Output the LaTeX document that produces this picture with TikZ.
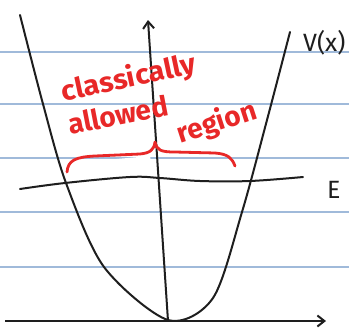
\documentclass[tikz,border=0pt]{standalone}
\usepackage{fontspec}
\setmainfont{Fira Sans}
\usetikzlibrary{arrows.meta}
\definecolor{rule}{RGB}{160,186,218}
\definecolor{ink}{RGB}{30,30,30}
\definecolor{redink}{RGB}{232,40,40}
\tikzset{
  ruleline/.style={rule, line width=1.2pt},
  curve/.style={ink, line width=2pt, line cap=round, line join=round},
  axis/.style={ink, line width=2pt, -{Straight Barb[length=7pt,width=11pt]}},
  redtext/.style={redink, font=\fontsize{28}{28}\selectfont\bfseries, inner sep=0pt},
  blacklabel/.style={ink, font=\fontsize{25}{25}\selectfont, inner sep=0pt, anchor=west},
  brace/.style={redink, line width=2.8pt, line cap=round, line join=round}
}
\begin{document}
\begin{tikzpicture}[x=1pt,y=-1pt]
\useasboundingbox (0,0) rectangle (349,333);
\clip (0,0) rectangle (349,333);
\fill[white] (0,0) rectangle (349,333);
% ruled lines
\foreach \yy in {52,104,158,212,267}
  \draw[ruleline] (0,\yy) -- (349,\yy);
% eraser patch under brace
\fill[white] (69,176) -- (72,163) -- (150,156) -- (154,178) -- cycle;
% axes
\coordinate (xs) at (5,321);
\coordinate (xe) at (326,321);
\coordinate (ys) at (168,321);
\coordinate (ye) at (148,20);
\draw[axis] (xs) -- (xe);
\draw[axis] (ys) -- (ye);
% potential
\draw[curve] plot[smooth, tension=0.5] coordinates {(20,15) (43,104) (66,183) (104,267) (168,320) (213,298) (242,212) (267,120) (290,32)};
% energy line
\draw[curve] plot[smooth, tension=0.6] coordinates {(20,189) (65,183) (130,177) (160,178) (200,181) (250,181) (303,177)};
% labels
\node[blacklabel] (V) at (303,43) {V(x)};
\node[blacklabel] (E) at (327,190) {E};
% red text
\node[redtext, rotate=12, xscale=1.05] (t1) at (129,79) {classically};
\node[redtext, rotate=11] (t2) at (118,115) {allowed};
\node[redtext, rotate=18] (t3) at (217,123) {region};
% brace
\draw[brace] (67,172) .. controls (68,160) and (76,157) .. (95,156) -- (140,154) .. controls (150,153) and (154,150) .. (155,142) .. controls (157,150) and (160,152) .. (175,152) -- (215,153) .. controls (228,154) and (232,158) .. (235,166);
\end{tikzpicture}
\end{document}
